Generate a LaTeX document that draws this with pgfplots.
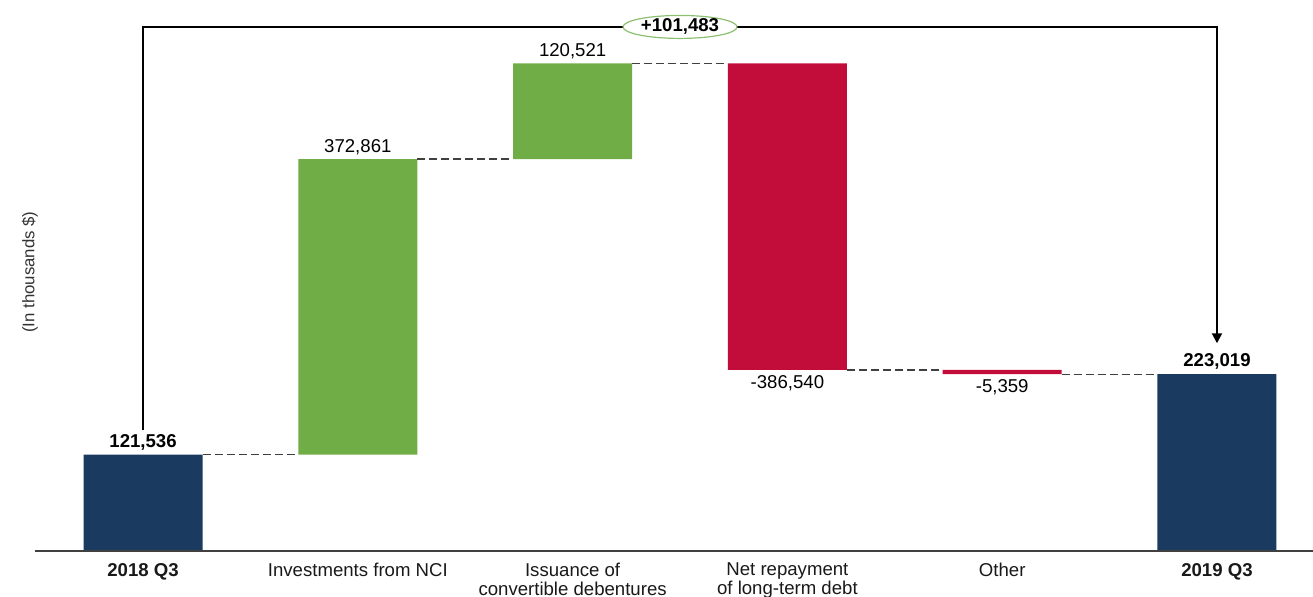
\documentclass[border=0pt]{standalone}
\usepackage{pgfplots}
\pgfplotsset{compat=1.18}
\usepackage{fontspec}
\setmainfont{Liberation Sans}
\usetikzlibrary{arrows.meta,shapes.geometric}
\definecolor{navy}{HTML}{1A3A5F}
\definecolor{wgreen}{HTML}{70AD47}
\definecolor{wred}{HTML}{C20D3B}
\definecolor{ovl}{HTML}{8DBF70}
\pgfplotsset{wf/.style={
  at={(17.5pt,23pt)}, anchor=south west,
  scale only axis, width=639pt, height=275.5pt,
  xmin=-0.503, xmax=5.447, ymin=0, ymax=695000,
  clip=false, enlargelimits=false}}
\begin{document}
\begin{tikzpicture}
\useasboundingbox (0,0) rectangle (656.5pt,298.5pt);
% bars
\begin{axis}[wf, hide axis, ybar stacked, bar width=59.5pt]
\addplot[fill=none, draw=none] coordinates {(0,0)(1,121536)(2,494397)(3,228378)(4,223019)(5,0)};
\addplot[fill=navy, draw=none] coordinates {(0,121536)(1,0)(2,0)(3,0)(4,0)(5,223019)};
\addplot[fill=wgreen, draw=none] coordinates {(0,0)(1,372861)(2,120521)(3,0)(4,0)(5,0)};
\addplot[fill=wred, draw=none] coordinates {(0,0)(1,0)(2,0)(3,386540)(4,5359)(5,0)};
\end{axis}
% axis, connectors, labels
\begin{axis}[wf,
  axis x line*=bottom, axis y line=none,
  x axis line style={-, draw=black!75, line width=0.7pt},
  xtick={0,...,5}, xtick style={draw=none}, ytick=\empty,
  xticklabels={{\bfseries 2018 Q3},{Investments from NCI},{Issuance of\\convertible debentures},{Net repayment\\of long-term debt},{Other},{\bfseries 2019 Q3}},
  xticklabel style={align=center, font=\fontsize{9.3}{9.3}\selectfont, anchor=north, yshift=-2.5pt, text=black!90},
  font=\fontsize{9.3}{11}\selectfont,
]
\addplot[black!75, line width=0.6pt, dash pattern=on 4pt off 2pt] coordinates {(0.277,121536)(0.723,121536)};
\addplot[black!75, line width=0.6pt, dash pattern=on 4pt off 2pt] coordinates {(1.277,494397)(1.723,494397)};
\addplot[black!75, line width=0.6pt, dash pattern=on 4pt off 2pt] coordinates {(2.277,614918)(2.723,614918)};
\addplot[black!75, line width=0.6pt, dash pattern=on 4pt off 2pt] coordinates {(3.277,228378)(3.723,228378)};
\addplot[black!75, line width=0.6pt, dash pattern=on 4pt off 2pt] coordinates {(4.277,223019)(4.723,223019)};
\addplot[black, line width=1pt, -{Triangle[length=5pt,width=5pt]}] coordinates {(0,153000)(0,661000)(5,661000)(5,262000)};
\node[ellipse, draw=ovl, fill=white, line width=0.6pt, minimum width=57pt, minimum height=11.5pt, inner sep=0pt, font=\fontsize{9.3}{11}\selectfont\bfseries] at (axis cs:2.5,661000) {+101,483};
\node[anchor=south, inner sep=2pt, font=\fontsize{9.3}{11}\selectfont\bfseries] at (axis cs:0,121536) {121,536};
\node[anchor=south, inner sep=2pt] at (axis cs:1,494397) {372,861};
\node[anchor=south, inner sep=2pt] at (axis cs:2,614918) {120,521};
\node[anchor=north, inner sep=2.5pt] at (axis cs:3,228378) {-386,540};
\node[anchor=north, inner sep=2.5pt] at (axis cs:4,223019) {-5,359};
\node[anchor=south, inner sep=2pt, font=\fontsize{9.3}{11}\selectfont\bfseries] at (axis cs:5,223019) {223,019};
\node[rotate=90, font=\fontsize{8.4}{10}\selectfont, text=black!80] at (rel axis cs:-0.004,0.506) {(In thousands \$)};
\end{axis}
\end{tikzpicture}
\end{document}
